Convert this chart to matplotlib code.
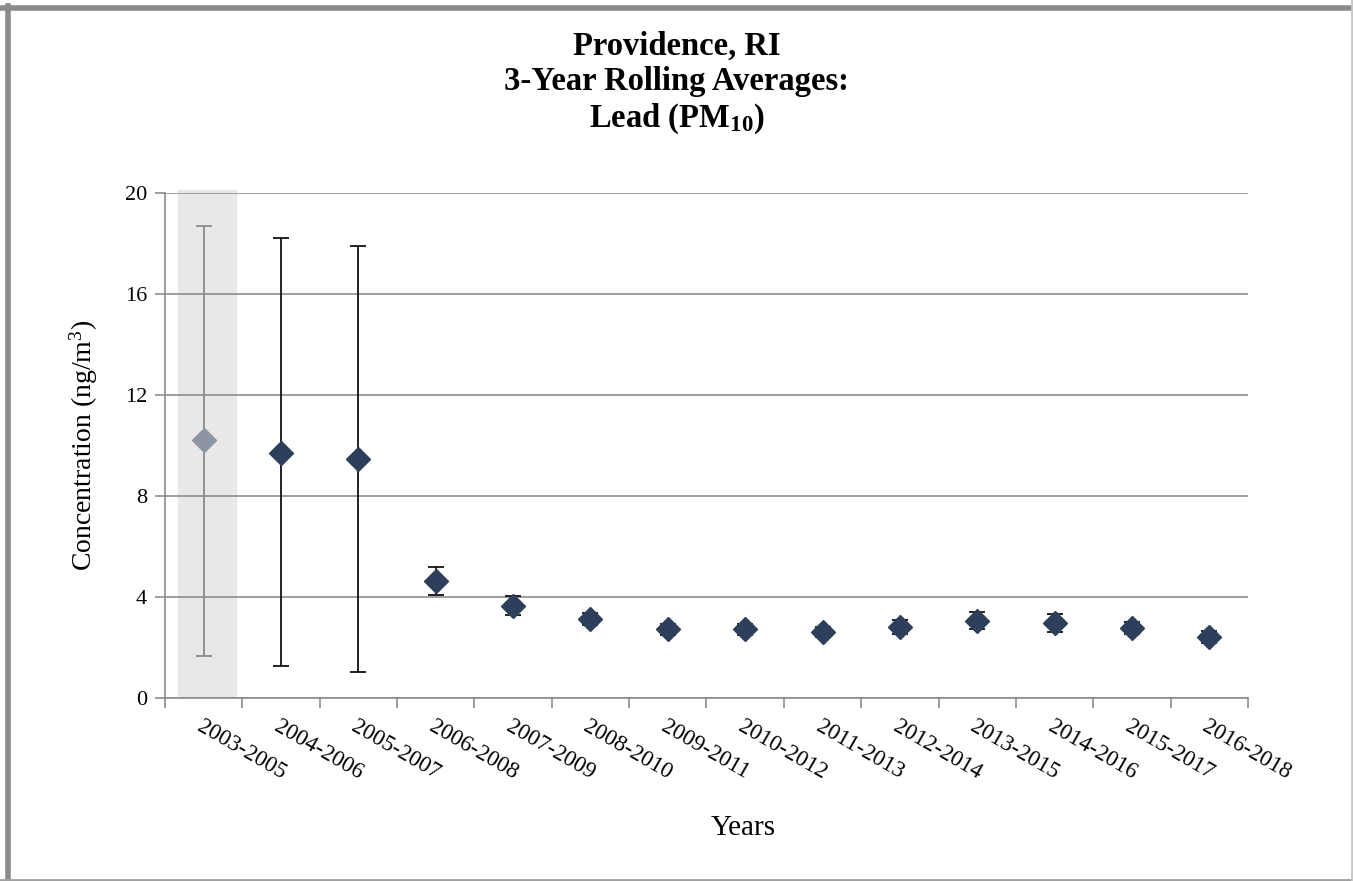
import numpy as np
import matplotlib
matplotlib.use("Agg")
import matplotlib.pyplot as plt
from matplotlib.lines import Line2D

plt.rcParams['font.family'] = ['Liberation Serif', 'DejaVu Serif']
plt.rcParams['mathtext.fontset'] = 'custom'
plt.rcParams['mathtext.default'] = 'regular'

periods = ['2003-2005', '2004-2006', '2005-2007', '2006-2008', '2007-2009',
           '2008-2010', '2009-2011', '2010-2012', '2011-2013', '2012-2014',
           '2013-2015', '2014-2016', '2015-2017', '2016-2018']
means = [10.2, 9.7, 9.47, 4.63, 3.66, 3.12, 2.72, 2.73, 2.61, 2.83,
         3.06, 2.98, 2.77, 2.43]
upper = [18.7, 18.2, 17.9, 5.2, 4.04, 3.35, 2.95, 2.95, 2.82, 3.1,
         3.4, 3.33, 3.02, 2.65]
lower = [1.66, 1.27, 1.03, 4.08, 3.3, 2.9, 2.5, 2.5, 2.4, 2.55,
         2.73, 2.6, 2.52, 2.18]
# the first period is flagged as incomplete
flagged = [True] + [False] * 13

x = np.arange(len(periods))
means = np.array(means)
err = np.array([means - np.array(lower), np.array(upper) - means])

fig = plt.figure(figsize=(13.53, 8.81), dpi=100)
ax = fig.add_axes([165 / 1353, 1 - 698 / 881, 1083 / 1353, 505 / 881])

ax.axvspan(-0.33, 0.42, ymin=0.003, ymax=1.005, color='#e8e8e8', zorder=0,
           clip_on=False)

for i in x:
    if flagged[i]:
        c, ec = '#8d95a3', '#8a8a8a'
    else:
        c, ec = '#2e3f5c', '#111111'
    ax.errorbar(x[i], means[i], yerr=err[:, i:i + 1], fmt='D', ms=12.5,
                color=c, ecolor=ec, elinewidth=1.3, capsize=6, capthick=1.3,
                zorder=3)

ax.set_xlim(-0.5, len(periods) - 0.5)
ax.set_ylim(0, 20)
ax.set_yticks([0, 4, 8, 12, 16, 20])
ax.yaxis.grid(True, color='#8c8c8c', linewidth=1.2)
ax.set_axisbelow(True)

ax.set_xticks(np.arange(-0.5, len(periods) - 0.5 + 1), minor=False)
ax.set_xticklabels([])
ax.set_xticks(x, minor=True)
ax.set_xticklabels(periods, minor=True, rotation=-30, ha='left', va='top',
                   rotation_mode='anchor', fontsize=16.5)
ax.tick_params(axis='x', which='major', length=7, color='#8c8c8c', width=1.2)
ax.tick_params(axis='x', which='minor', length=0, pad=13)
ax.tick_params(axis='y', length=7, color='#8c8c8c', width=1.2, labelsize=16,
               pad=6)

for s in ['top', 'right']:
    ax.spines[s].set_visible(False)
for s in ['left', 'bottom']:
    ax.spines[s].set_color('#8c8c8c')
    ax.spines[s].set_linewidth(1.2)

ax.set_ylabel('Concentration (ng/m$^3$)', fontsize=20, labelpad=18)
fig.text(743 / 1353, 1 - 828 / 881, 'Years', fontsize=21, ha='center',
         va='center')
fig.text(0.5, 1 - 83 / 881,
         'Providence, RI\n3-Year Rolling Averages:\nLead (PM$_{10}$)',
         fontsize=23.5, fontweight='bold', ha='center', va='center',
         linespacing=1.18)

# gray frame around the figure
fig.add_artist(Line2D([0, 1], [1 - 7.5 / 881] * 2, color='#8a8a8a', lw=4,
                      transform=fig.transFigure))
fig.add_artist(Line2D([8 / 1353] * 2, [0, 1 - 6 / 881], color='#8a8a8a', lw=4,
                      transform=fig.transFigure))
fig.add_artist(Line2D([0, 1], [1.5 / 881] * 2, color='#a0a0a0', lw=2,
                      transform=fig.transFigure))
fig.add_artist(Line2D([1 - 1.5 / 1353] * 2, [0, 1], color='#c8c8c8', lw=2,
                      transform=fig.transFigure))

fig.savefig('out.png', dpi=100, facecolor='white')
